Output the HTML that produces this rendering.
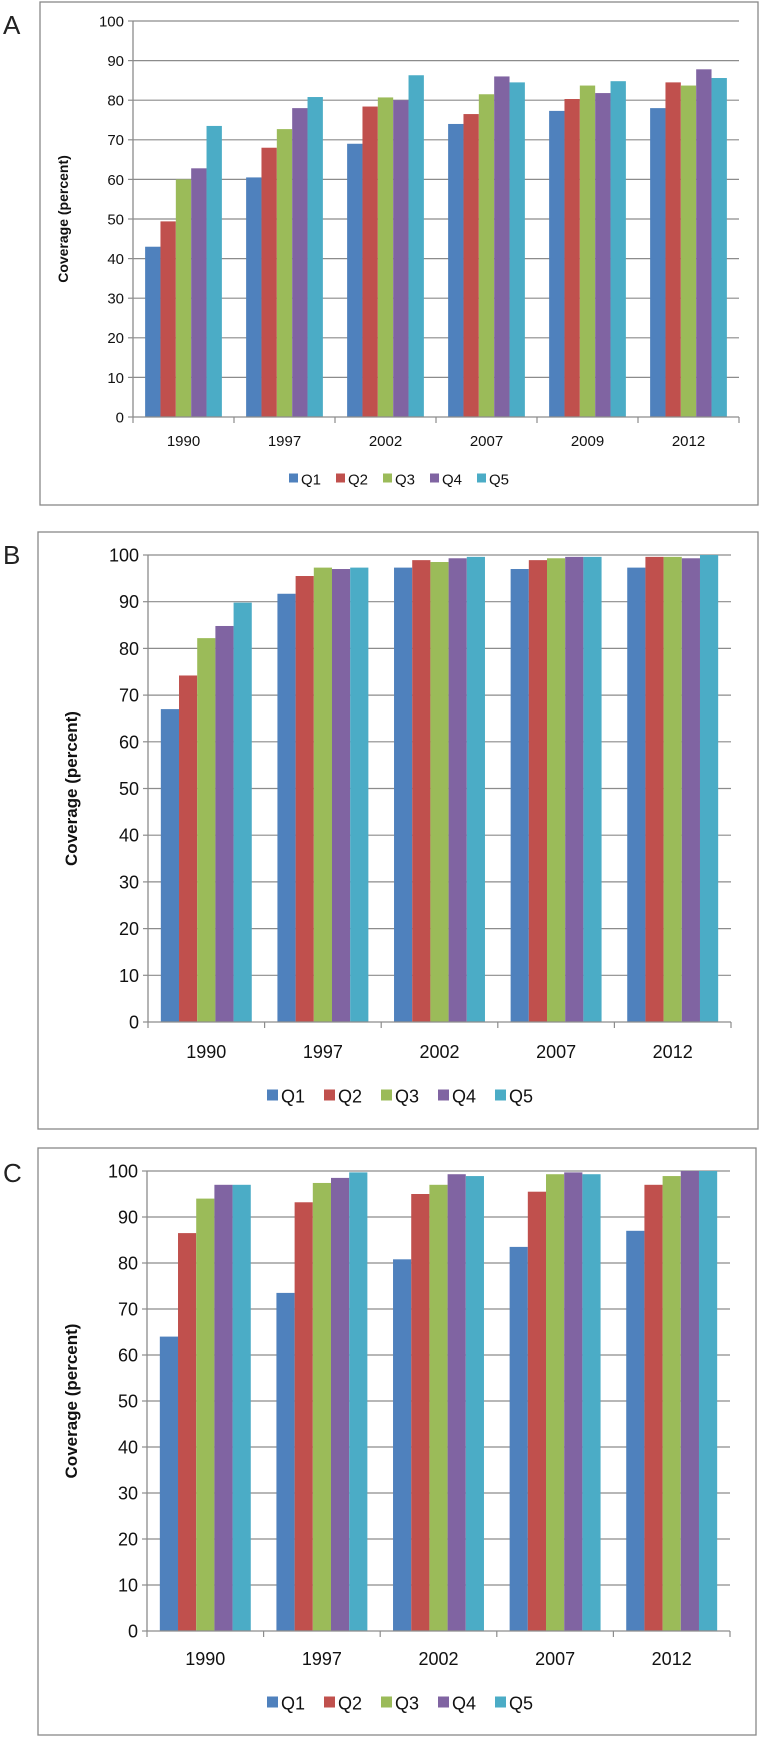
<!DOCTYPE html>
<html><head><meta charset="utf-8"><style>
body{margin:0;background:#fff;width:760px;height:1738px;overflow:hidden}
svg{display:block}
</style></head><body>
<svg id="fig" width="760" height="1738" xmlns="http://www.w3.org/2000/svg"></svg>
<script>
const seriesNames=["Q1","Q2","Q3","Q4","Q5"];
const colors=["#4f81bd","#c0504d","#9bbb59","#8064a2","#4bacc6"];
const yTicks=[0,10,20,30,40,50,60,70,80,90,100];
const catsA=["1990","1997","2002","2007","2009","2012"];
const a_q1=[43,60.5,69,74,77.3,78];
const a_q2=[49.4,68,78.4,76.5,80.3,84.5];
const a_q3=[60,72.7,80.7,81.5,83.7,83.7];
const a_q4=[62.8,78,80,86,81.8,87.8];
const a_q5=[73.5,80.8,86.3,84.5,84.8,85.6];
const catsB=["1990","1997","2002","2007","2012"];
const b_q1=[67,91.7,97.3,97,97.3];
const b_q2=[74.2,95.5,98.9,98.9,99.6];
const b_q3=[82.2,97.3,98.5,99.3,99.6];
const b_q4=[84.8,97,99.3,99.6,99.3];
const b_q5=[89.8,97.3,99.6,99.6,100];
const catsC=["1990","1997","2002","2007","2012"];
const c_q1=[64,73.5,80.8,83.5,87];
const c_q2=[86.5,93.2,95,95.5,97];
const c_q3=[94,97.4,97,99.3,98.9];
const c_q4=[97,98.5,99.3,99.7,100];
const c_q5=[97,99.7,98.9,99.3,100];

const NS="http://www.w3.org/2000/svg";
const svg=document.getElementById('fig');
function mk(tag,attrs,parent,text){
  const e=document.createElementNS(NS,tag);
  for(const k in attrs)e.setAttribute(k,attrs[k]);
  if(text!==undefined)e.textContent=text;
  (parent||svg).appendChild(e);return e;
}
function panel(p){
  const g=mk('g',{});
  
  
  const box=mk('rect',{x:p.bx1,y:p.by1,width:p.bx2-p.bx1,height:p.by2-p.by1,fill:'none',stroke:'#888','stroke-width':1.3},g);
  
  
  const lab=mk('text',{x:3,y:p.labY,'font-family':'Liberation Sans, sans-serif','font-size':26,fill:'#222'},g,p.id);
  
  
  const ys=v=>p.y0-(v/100)*(p.y0-p.y100);
  const cw=(p.x2-p.x1)/p.cats.length;
  const xs=i=>p.x1+i*cw;
  yTicks.forEach(t=>{
    if(t>0){const gl=mk('line',{x1:p.x1,x2:p.x2,y1:ys(t),y2:ys(t),stroke:'#8c8c8c','stroke-width':1.2},g);
      
      }
    mk('line',{x1:p.x1-5,x2:p.x1,y1:ys(t),y2:ys(t),stroke:'#8c8c8c','stroke-width':1.2},g);
    const tl=mk('text',{x:p.x1-9,y:ys(t)+p.fs*0.36,'text-anchor':'end','font-family':p.font,'font-size':p.fs,fill:'#111'},g,String(t));
    
    
  });
  const gw=cw*p.gf, bw=gw/5;
  p.series.forEach((arr,s)=>{
    arr.forEach((v,i)=>{
      const x=xs(i)+(cw-gw)/2+s*bw;
      const r=mk('rect',{x:x,y:ys(v),width:bw,height:ys(0)-ys(v),fill:colors[s]},g);
      
      
    });
  });
  mk('line',{x1:p.x1,x2:p.x1,y1:p.y100,y2:p.y0,stroke:'#8c8c8c','stroke-width':1.3},g);
  mk('line',{x1:p.x1,x2:p.x2,y1:p.y0,y2:p.y0,stroke:'#8c8c8c','stroke-width':1.3},g);
  for(let i=0;i<=p.cats.length;i++)mk('line',{x1:xs(i),x2:xs(i),y1:p.y0,y2:p.y0+6,stroke:'#8c8c8c','stroke-width':1.2},g);
  p.cats.forEach((c,i)=>{
    const t=mk('text',{x:xs(i)+cw/2,y:p.labY2,'text-anchor':'middle','font-family':p.font,'font-size':p.fs,fill:'#111'},g,c);
    
    
  });
  const yt=mk('text',{x:0,y:0,transform:`translate(${p.titleX},${(p.y0+p.y100)/2}) rotate(-90)`,'text-anchor':'middle','font-family':'Liberation Sans, sans-serif','font-weight':'bold','font-size':p.tfs,fill:'#111'},g,'Coverage (percent)');
  
  
  let lx=p.legX;
  seriesNames.forEach((n,s)=>{
    const sq=mk('rect',{x:lx,y:p.legY-p.sq/2-1,width:p.sq,height:p.sq,fill:colors[s]},g);
    
    
    const t=mk('text',{x:lx+p.sq+3,y:p.legY+p.fs*0.36,'font-family':p.font,'font-size':p.fs,fill:'#111'},g,n);
    
    
    lx+=p.legStep;
  });
}
panel({id:'A',bx1:40,by1:2,bx2:758,by2:505,labY:34,x1:133,x2:739,y0:417,y100:21,cats:catsA,
  series:[a_q1,a_q2,a_q3,a_q4,a_q5],gf:0.76,fs:15,tfs:14,titleX:68,labY2:446,
  font:'"Liberation Sans",sans-serif',legX:289,legY:479,sq:9,legStep:47});
panel({id:'B',bx1:38,by1:532,bx2:758,by2:1129,labY:564,x1:148,x2:731,y0:1022,y100:555,cats:catsB,
  series:[b_q1,b_q2,b_q3,b_q4,b_q5],gf:0.78,fs:18,tfs:17,titleX:77,labY2:1058,
  font:'"Liberation Sans",sans-serif',legX:267,legY:1096,sq:11,legStep:57});
panel({id:'C',bx1:38,by1:1148,bx2:756,by2:1735,labY:1182,x1:147,x2:730,y0:1631,y100:1171,cats:catsC,
  series:[c_q1,c_q2,c_q3,c_q4,c_q5],gf:0.78,fs:18,tfs:17,titleX:77,labY2:1665,
  font:'"Liberation Sans",sans-serif',legX:267,legY:1703,sq:11,legStep:57});
</script>
</body></html>
